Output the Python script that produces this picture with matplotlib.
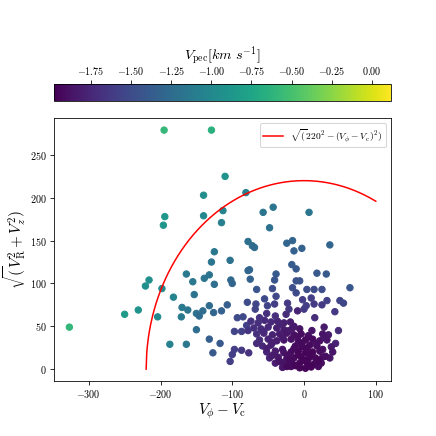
import numpy as np
import matplotlib
matplotlib.use("Agg")
import matplotlib.pyplot as plt
from matplotlib.ticker import StrMethodFormatter

plt.rcParams['mathtext.fontset'] = 'cm'
plt.rcParams['font.family'] = 'serif'
plt.rcParams['font.serif'] = ['DejaVu Serif']

# halo / thick disc stars (outer, well separated points)
halo_vphi = [-195, -129, -327, -194, -196, -216, -221, -198, -250, -231,
             -204, -182, -187, -164, -155, -153, -170, -171, -162, -164,
             -150, -150, -110, -140, -81, -140, -113, -115, -78, -125,
             -129, -103, -139, -132, -125, -102, -100, -78, -43, -57,
             7, -48, -72, -69, -24, -16, -14, -3, 36, -76,
             -75, -39, -41, -17, -11, 18, 31, -11, -6, -16,
             -44, -66, 4, 14, 25, 64, -11, -39, -55, -51,
             -79, -67, -68, -41, -23, -21, -2, 10, 14, 32,
             25, 50, 55, 43, 48, 44, -132, -141, -146, -126,
             -115, -107, -132, -117, -127, -93, -85, -80, -97, -87,
             -97, -100, -103, -87, -77]
halo_vperp = [279, 279, 49, 178, 168, 104, 97, 94, 64, 69,
              61, 84, 29, 111, 102, 87, 72, 61, 69, 29,
              65, 46, 225, 203, 206, 179, 185, 171, 149, 137,
              125, 127, 106, 110, 99, 104, 100, 115, 189, 183,
              183, 165, 144, 142, 147, 150, 138, 141, 145, 116,
              105, 111, 104, 122, 117, 112, 111, 103, 103, 95,
              94, 93, 93, 93, 93, 95, 89, 85, 82, 74,
              78, 76, 70, 76, 77, 70, 81, 83, 76, 80,
              75, 80, 77, 67, 45, 30, 74, 68, 62, 66,
              68, 75, 35, 30, 19, 60, 61, 51, 44, 44,
              23, 17, 9, 22, 19]
halo_vpec = [-0.58, -0.64, -0.6, -0.87, -0.88, -0.93, -0.93, -0.98, -0.85, -0.92,
             -0.98, -1.04, -1.06, -1.12, -1.15, -1.17, -1.12, -1.13, -1.16, -1.15,
             -1.2, -1.24, -0.9, -0.95, -1.05, -1.0, -1.04, -1.08, -1.22, -1.14,
             -1.16, -1.2, -1.16, -1.18, -1.23, -1.28, -1.3, -1.3, -1.16, -1.16,
             -1.16, -1.2, -1.24, -1.26, -1.3, -1.3, -1.34, -1.33, -1.3, -1.3,
             -1.34, -1.4, -1.42, -1.38, -1.4, -1.4, -1.4, -1.45, -1.45, -1.48,
             -1.48, -1.43, -1.5, -1.5, -1.48, -1.42, -1.52, -1.53, -1.52, -1.56,
             -1.5, -1.54, -1.56, -1.6, -1.62, -1.64, -1.6, -1.6, -1.62, -1.58,
             -1.62, -1.55, -1.55, -1.62, -1.72, -1.78, -1.25, -1.24, -1.25, -1.3,
             -1.34, -1.36, -1.36, -1.4, -1.4, -1.5, -1.52, -1.58, -1.56, -1.58,
             -1.6, -1.6, -1.6, -1.64, -1.68]

# thin disc stars (dense clump near the origin)
disc_vphi = [-74, -64, -55, -46, -37, -28, -19, -52, -9,
             -70, -60, -50, -38, -28, -16, -6, 28,
             -66, -56, -44, -34, -24, -14, -4, 6, 26, 34,
             -62, -50, -38, -28, -18, -8, 2, 12, 22, 32,
             -58, -46, -12, -2, 8, 18, 38,
             -52, -40, -28, -18, -8, 2, 12, 22,
             -48, -36, -24, -14, -4, 6, 16, 26, 36,
             -40, -28, -16, -6, 4, 14, 24,
             -30, -18, -6, 2, 10, 20, 0, 3,
             -33, -14, -56, -21, 11, -9, -30, -44, 28, 17,
             -3, -52, -30, -14, 4, 26, -44, -22, -8, 10,
             30, -34, -20, 0, 20, -12, 8, -24, -62, -40,
             -25, 15, -78, -66, 40]
disc_vperp = [56, 54, 57, 55, 56, 54, 55, 65, 68,
              48, 47, 49, 48, 46, 48, 47, 49,
              41, 42, 40, 41, 42, 40, 41, 39, 41, 40,
              34, 35, 33, 34, 35, 33, 34, 35, 33, 34,
              27, 28, 27, 26, 28, 27, 26,
              20, 21, 19, 20, 21, 19, 20, 21,
              13, 14, 12, 13, 14, 12, 13, 14, 13,
              7, 8, 6, 7, 8, 6, 7,
              2, 3, 1.5, 1, 2.5, 3, 70, 74,
              52, 50, 44, 45, 45, 38, 37, 31, 37, 30,
              30, 24, 23, 24, 24, 23, 16, 16, 17, 17,
              15, 9, 10, 10, 10, 4, 4, 3, 60, 62,
              64, 60, 45, 30, 20]
disc_vpec = [-1.68, -1.7, -1.73, -1.75, -1.78, -1.8, -1.82, -1.7, -1.78,
             -1.7, -1.72, -1.75, -1.8, -1.83, -1.86, -1.88, -1.84,
             -1.7, -1.74, -1.78, -1.82, -1.86, -1.89, -1.91, -1.9, -1.87, -1.84,
             -1.72, -1.76, -1.81, -1.86, -1.89, -1.92, -1.93, -1.92, -1.89, -1.86,
             -1.74, -1.79, -1.92, -1.94, -1.93, -1.91, -1.84,
             -1.77, -1.83, -1.88, -1.92, -1.94, -1.95, -1.94, -1.9,
             -1.78, -1.85, -1.9, -1.93, -1.95, -1.95, -1.94, -1.9, -1.86,
             -1.82, -1.88, -1.92, -1.95, -1.96, -1.94, -1.9,
             -1.86, -1.91, -1.95, -1.96, -1.95, -1.92, -1.62, -1.6,
             -1.78, -1.84, -1.74, -1.84, -1.86, -1.9, -1.84, -1.8, -1.86, -1.9,
             -1.93, -1.8, -1.87, -1.92, -1.94, -1.9, -1.84, -1.9, -1.94, -1.95,
             -1.9, -1.88, -1.92, -1.96, -1.94, -1.95, -1.96, -1.93, -1.68, -1.7,
             -1.72, -1.72, -1.66, -1.72, -1.86]

v_c = 220
curve_lo, curve_hi = -220, 100
vmin, vmax = -1.98, 0.12

v_phi = np.array(halo_vphi + disc_vphi)
v_perp = np.array(halo_vperp + disc_vperp)
v_pec = np.array(halo_vpec + disc_vpec)

fig = plt.figure(figsize=(6, 6))
ax = fig.add_axes([0.124, 0.126, 0.773, 0.603])
cax = fig.add_axes([0.124, 0.768, 0.773, 0.039])

sc = ax.scatter(v_phi, v_perp, c=v_pec, cmap='viridis', vmin=vmin, vmax=vmax, s=40)

xc = np.linspace(curve_lo, curve_hi, 400)
ax.plot(xc, np.sqrt(v_c**2 - xc**2), color='red', lw=1.5,
        label=r'$\sqrt{(}220^2-(V_\phi-V_{\rm c})^2)$')
ax.legend(loc='upper right', fontsize=9.5)

ax.set_xlabel(r'$V_\phi - V_{\rm c}$', fontsize=15, labelpad=1)
ax.set_ylabel(r'$\sqrt{(}V_{\rm R}^2+V_z^2)$', fontsize=15, labelpad=2)
ax.set_xticks([-300, -200, -100, 0, 100])
ax.set_yticks([0, 50, 100, 150, 200, 250])
ax.xaxis.set_major_formatter(StrMethodFormatter(r'${x:.0f}$'))
ax.yaxis.set_major_formatter(StrMethodFormatter(r'${x:.0f}$'))

cb = fig.colorbar(sc, cax=cax, orientation='horizontal')
cb.set_ticks([-1.75, -1.5, -1.25, -1.0, -0.75, -0.5, -0.25, 0.0])
cb.ax.xaxis.set_major_formatter(StrMethodFormatter(r'${x:.2f}$'))
cb.ax.xaxis.set_ticks_position('top')
cb.ax.xaxis.set_label_position('top')
cb.set_label(r'$V_{\rm pec} [km\ s^{-1}]$', fontsize=14, labelpad=5)

fig.savefig('out.png', dpi=436 / 6)
